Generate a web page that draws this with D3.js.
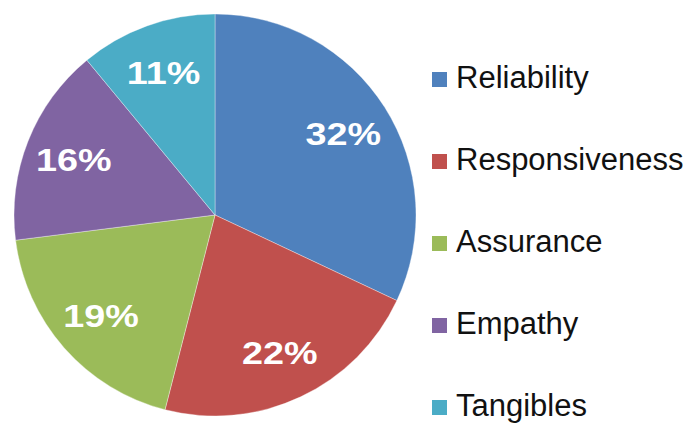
<!DOCTYPE html>
<html>
<head>
<meta charset="utf-8">
<script src="https://cdn.jsdelivr.net/npm/d3@7"></script>
<style>
html,body{margin:0;padding:0;background:#fff;}
svg{display:block;}
</style>
</head>
<body>
<svg id="chart" width="696" height="424"></svg>
<script>
const categories = ["Reliability", "Responsiveness", "Assurance", "Empathy", "Tangibles"];
const values = [32, 22, 19, 16, 11];
const labels = ["32%", "22%", "19%", "16%", "11%"];
const colors = ["#4F81BD", "#C0504D", "#9BBB59", "#8064A2", "#4BACC6"];

const svg = d3.select("#chart");
const cx = 215, cy = 215, R = 201;

const color = d3.scaleOrdinal().domain(categories).range(colors);
const pie = d3.pie().sort(null).value(d => d.value);
const data = pie(categories.map((c, i) => ({name: c, value: values[i], label: labels[i]})));

const arc = d3.arc().innerRadius(0).outerRadius(R);
const labelArc = d3.arc().innerRadius(152).outerRadius(152);

const g = svg.append("g").attr("transform", `translate(${cx},${cy})`);
g.selectAll("path").data(data).enter().append("path")
  .attr("d", arc)
  .attr("fill", d => color(d.data.name))
  .attr("stroke", "rgba(255,255,255,0.35)")
  .attr("stroke-width", 1);

g.selectAll("text").data(data).enter().append("text")
  .attr("transform", d => { const [x, y] = labelArc.centroid(d); return `translate(${x},${y}) scale(1.18,1)`; })
  .attr("text-anchor", "middle")
  .attr("dy", "0.36em")
  .attr("fill", "#fff")
  .style("font-family", "'Liberation Sans', Arial, sans-serif")
  .style("font-weight", "bold")
  .style("font-size", "32px")
  .text(d => d.data.label);

const legendY = d3.scalePoint().domain(categories).range([88, 416]);
const lg = svg.append("g");
const items = lg.selectAll("g").data(categories).enter().append("g")
  .attr("transform", d => `translate(0,${legendY(d)})`);
items.append("rect")
  .attr("x", 432).attr("y", -16).attr("width", 15).attr("height", 15)
  .attr("fill", d => color(d));
items.append("text")
  .attr("x", 456).attr("y", 0)
  .attr("fill", "#111")
  .style("font-family", "'Liberation Sans', Arial, sans-serif")
  .style("font-size", "31px")
  .text(d => d);
</script>
</body>
</html>
